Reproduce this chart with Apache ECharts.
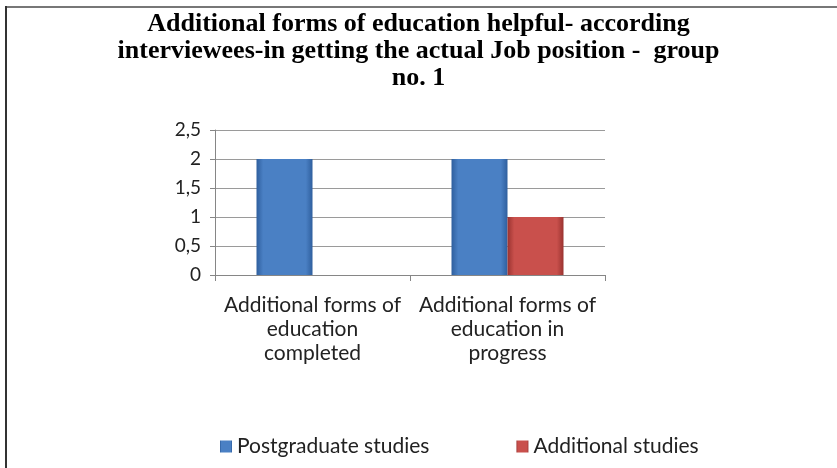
<!DOCTYPE html>
<html><head><meta charset="utf-8">
<script src="https://cdn.jsdelivr.net/npm/echarts@6/dist/echarts.min.js"></script>
<style>html,body{margin:0;padding:0;background:#fff}#c{width:837px;height:468px}</style>
</head><body><div id="c"></div>
<script>
var categories = ["Additional forms of\neducation\ncompleted", "Additional forms of\neducation in\nprogress"];
var seriesNames = ["Postgraduate studies", "Additional studies"];
var postgraduate = [2, 2];
var additional = [0, 1];
var titleText = "Additional forms of education helpful- according\ninterviewees-in getting the actual Job position -  group\nno. 1";

function grad(edge, mid) {
  return new echarts.graphic.LinearGradient(0, 0, 1, 0, [
    {offset: 0, color: edge}, {offset: 0.12, color: mid}, {offset: 0.88, color: mid}, {offset: 1, color: edge}
  ]);
}
var chart = echarts.init(document.getElementById('c'));
chart.setOption({
  animation: false,
  backgroundColor: '#fff',
  title: {
    text: titleText, left: 'center', top: 6,
    textStyle: {fontFamily: 'Liberation Serif', fontWeight: 'bold', fontSize: 26, lineHeight: 27, color: '#000'}
  },
  graphic: [
    {type: 'rect', shape: {x: 5, y: 6, width: 832, height: 2}, style: {fill: '#777'}, silent: true},
    {type: 'rect', shape: {x: 5, y: 6, width: 2, height: 462}, style: {fill: '#333'}, silent: true}
  ],
  legend: {
    left: 215, top: 431, itemWidth: 12, itemHeight: 12, itemGap: 87,
    icon: 'rect',
    textStyle: {fontFamily: 'Lato', fontSize: 21, color: '#222'},
    data: seriesNames
  },
  grid: {left: 215, right: 232, top: 130, bottom: 193},
  xAxis: {
    type: 'category', data: categories,
    axisLine: {lineStyle: {color: '#868686'}},
    axisTick: {show: true, length: 6, lineStyle: {color: '#868686'}},
    axisLabel: {fontFamily: 'Lato', fontSize: 21, color: '#222', lineHeight: 24, margin: 18, interval: 0}
  },
  yAxis: {
    type: 'value', min: 0, max: 2.5, interval: 0.5,
    axisLine: {show: true, lineStyle: {color: '#868686'}},
    axisTick: {show: true, length: 5, lineStyle: {color: '#868686'}},
    splitLine: {lineStyle: {color: '#9a9a9a'}},
    axisLabel: {fontFamily: 'Lato', fontSize: 19, color: '#222', margin: 14,
      formatter: function (v) { return String(v).replace('.', ','); }}
  },
  series: [
    {name: seriesNames[0], type: 'bar', data: postgraduate, barWidth: 56, barGap: '0%',
     itemStyle: {color: grad('#2f5f9e', '#4a80c4')}},
    {name: seriesNames[1], type: 'bar', data: additional, barWidth: 56,
     itemStyle: {color: grad('#9a3330', '#c9504c')}}
  ]
});
</script></body></html>
